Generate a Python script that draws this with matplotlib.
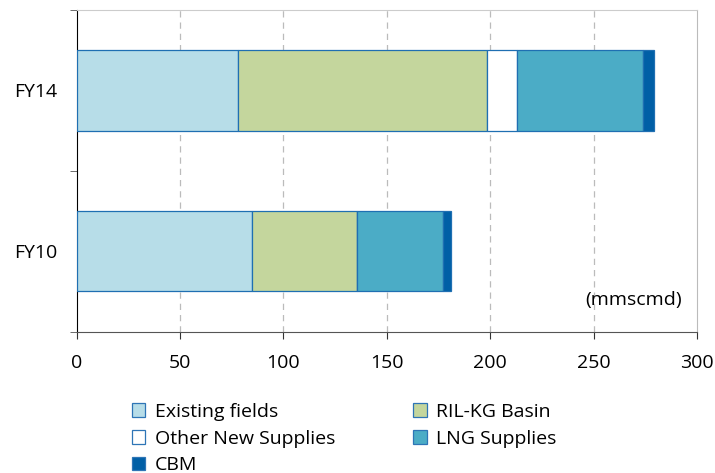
import numpy as np
import matplotlib.pyplot as plt
from matplotlib.patches import Patch

# gas supply mix by source (mmscmd)
years = ["FY10", "FY14"]
sources = ["Existing fields", "RIL-KG Basin", "Other New Supplies", "LNG Supplies", "CBM"]
existing = [85, 78]
ril_kg = [50.5, 120.5]
other_new = [0, 14.5]
lng = [41.7, 61]
cbm = [3.7, 5.3]

colors = ["#B7DDE8", "#C4D69D", "#FFFFFF", "#4BACC6", "#005FA6"]

plt.rcParams["font.family"] = ["Open Sans", "DejaVu Sans"]

fig = plt.figure(figsize=(7.15, 4.73), dpi=100)
ax = fig.add_axes([0.107, 0.299, 0.868, 0.68])

series = [existing, ril_kg, other_new, lng, cbm]
y = np.arange(len(years))
left = np.zeros(len(years))
for vals, col in zip(series, colors):
    ax.barh(y, vals, left=left, height=0.5, color=col,
            edgecolor="#1F6FB2", linewidth=0.9, zorder=3)
    left += np.array(vals)

ax.set_xlim(0, 300)
ax.set_ylim(-0.5, 1.5)
ax.set_xticks(np.arange(0, 301, 50))
ax.set_yticks(y)
ax.set_yticklabels(years)
ax.set_yticks([-0.5, 0.5, 1.5], minor=True)
ax.tick_params(axis="y", which="major", length=0, labelsize=14, pad=14)
ax.tick_params(axis="y", which="minor", length=5, color="#555555")
ax.tick_params(axis="x", length=5, color="#333333", labelsize=14, pad=11)

# dashed verticals for the inner ticks
for v in range(50, 300, 50):
    ax.axvline(v, color="#BBBBBB", linestyle=(0, (5, 4)), linewidth=0.9, zorder=1)

ax.spines["left"].set_color("black")
ax.spines["bottom"].set_color("#555555")
ax.spines["top"].set_color("#CCCCCC")
ax.spines["right"].set_color("#BBBBBB")

ax.text(0.976, 0.098, "(mmscmd)", transform=ax.transAxes, ha="right",
        va="center", fontsize=14)

# legend is filled column by column, so reorder to read row by row
handles = [Patch(facecolor=c, edgecolor="#2E75B6", linewidth=0.9) for c in colors]
order = [0, 2, 4, 1, 3]
fig.legend([handles[i] for i in order], [sources[i] for i in order],
           ncol=2, loc="upper left", bbox_to_anchor=(0.184, 0.148),
           frameon=False, fontsize=14, handlelength=0.7, handleheight=0.7,
           handletextpad=0.5, columnspacing=4.0, labelspacing=0.45,
           borderaxespad=0, borderpad=0)

fig.savefig("out.png", dpi=100)
